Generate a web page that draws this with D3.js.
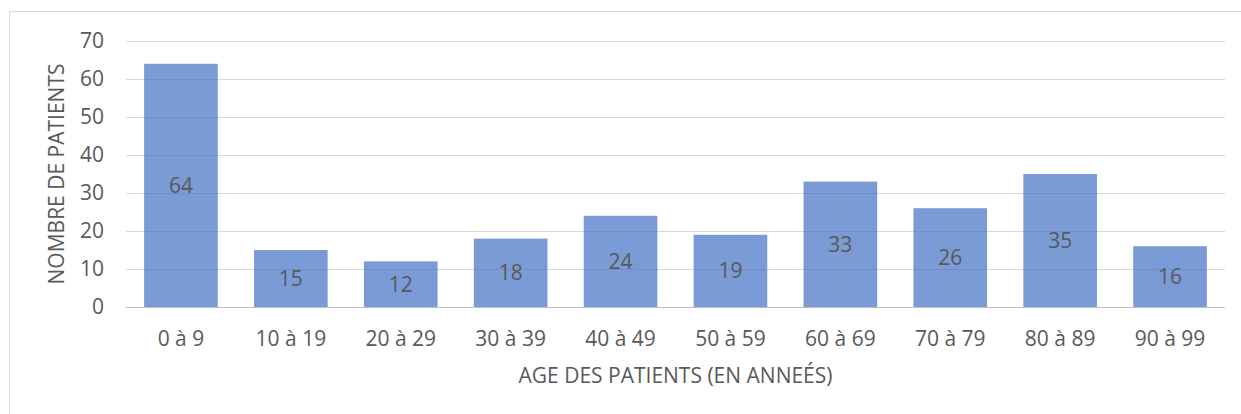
<!DOCTYPE html>
<html><head><meta charset="utf-8">
<script src="https://cdn.jsdelivr.net/npm/d3@7"></script>
<style>body{margin:0;background:#fff}text{font-family:"Open Sans",Lato,sans-serif;fill:#595959}</style>
</head><body><svg id="c" width="1241" height="414"></svg>
<script>
const categories = ["0 à 9","10 à 19","20 à 29","30 à 39","40 à 49","50 à 59","60 à 69","70 à 79","80 à 89","90 à 99"];
const patients = [64,15,12,18,24,19,33,26,35,16];
const yTicks = [0,10,20,30,40,50,60,70];
const xTitle = "AGE DES PATIENTS (EN ANNEÉS)";
const yTitle = "NOMBRE DE PATIENTS";
const FS = 21;

const svg = d3.select("#c");
svg.append("rect").attr("x",9.5).attr("y",11.5).attr("width",1240).attr("height",410)
  .attr("fill","#fff").attr("stroke","#d9d9d9").attr("stroke-width",1);

const m = {l:126,r:1225,t:41,b:307};
const x = d3.scaleBand().domain(categories).range([m.l,m.r]).paddingInner(0.33).paddingOuter(0.165);
const y = d3.scaleLinear().domain([0,70]).range([m.b,m.t]);

const g = svg.append("g");
g.selectAll("line.grid").data(yTicks.filter(d=>d>0)).join("line")
  .attr("x1",m.l).attr("x2",m.r).attr("y1",d=>Math.round(y(d))+0.5).attr("y2",d=>Math.round(y(d))+0.5)
  .attr("stroke","#d9d9d9").attr("stroke-width",1);

g.selectAll("rect.bar").data(patients).join("rect")
  .attr("x",(d,i)=>x(categories[i])).attr("width",x.bandwidth())
  .attr("y",d=>y(d)).attr("height",d=>y(0)-y(d))
  .attr("fill","#4472C4").attr("fill-opacity",0.71);

g.append("line").attr("x1",m.l).attr("x2",m.r).attr("y1",Math.round(y(0))+0.5).attr("y2",Math.round(y(0))+0.5)
  .attr("stroke","#bfbfbf").attr("stroke-width",1);

const ya = svg.append("g").attr("transform",`translate(${m.l},0)`)
  .call(d3.axisLeft(y).tickValues(yTicks).tickSize(0).tickPadding(22));
ya.select(".domain").remove();
ya.selectAll("text").attr("font-family","Open Sans").attr("font-size",FS).attr("fill","#595959");

const xa = svg.append("g").attr("transform",`translate(0,${m.b})`)
  .call(d3.axisBottom(x).tickSize(0).tickPadding(24));
xa.select(".domain").remove();
xa.selectAll("text").attr("font-family","Open Sans").attr("font-size",FS).attr("fill","#595959");

g.selectAll("text.val").data(patients).join("text")
  .attr("x",(d,i)=>x(categories[i])+x.bandwidth()/2)
  .attr("y",d=>(y(d)+y(0))/2).attr("dy","0.35em").attr("text-anchor","middle")
  .attr("font-size",FS).attr("fill","#404040").text(d=>d);

svg.append("text").attr("x",(m.l+m.r)/2).attr("y",376).attr("dy","0.35em").attr("text-anchor","middle")
  .attr("font-size",FS).text(xTitle);
svg.append("text").attr("transform",`translate(57,${(m.t+m.b)/2}) rotate(-90)`).attr("dy","0.35em")
  .attr("text-anchor","middle").attr("font-size",FS).text(yTitle);
</script></body></html>
